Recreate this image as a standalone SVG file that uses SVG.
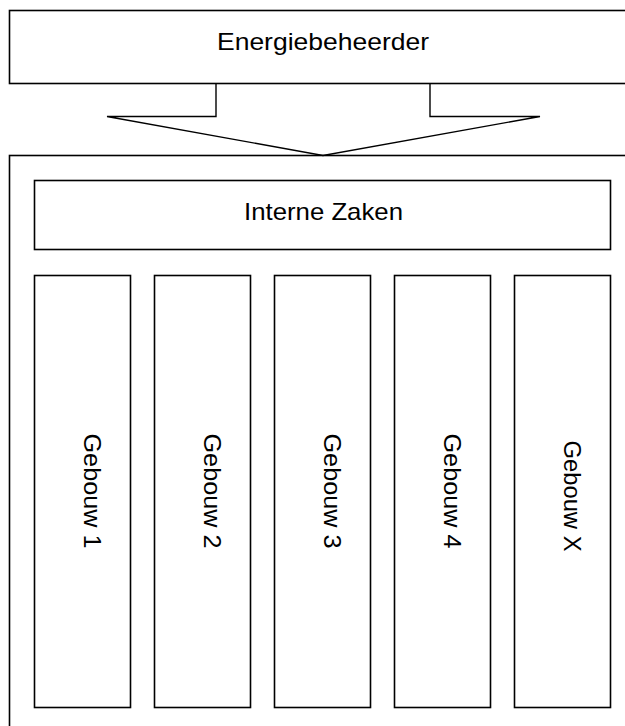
<svg xmlns="http://www.w3.org/2000/svg" width="625" height="726" viewBox="0 0 625 726">
<style>
.box{fill:#fff;stroke:#000;stroke-width:1.6}
.lbl{font-family:"Liberation Sans",Arial,sans-serif;font-size:24px;fill:#000;text-anchor:middle}
.arrow{fill:none;stroke:#000;stroke-width:1.4;stroke-linejoin:miter}
</style>
<rect x="0" y="0" width="625" height="726" fill="#fff"/>
<g id="energiebeheerder">
<rect class="box" x="9.5" y="10.5" width="630" height="73"/>
<text class="lbl" x="323" y="49.5" textLength="212" lengthAdjust="spacingAndGlyphs">Energiebeheerder</text>
</g>
<g id="container">
<rect class="box" x="9.5" y="155.5" width="630" height="600"/>
</g>
<g id="connectors">
<polyline class="arrow" points="216,83.5 216,116.5 107,116.5 323,155.5 540,116.5 430,116.5 430,83.5"/>
</g>
<g id="interne-zaken">
<rect class="box" x="34.5" y="180.5" width="576" height="69"/>
<text class="lbl" x="323.5" y="219.5" textLength="159" lengthAdjust="spacingAndGlyphs">Interne Zaken</text>
</g>
<g id="gebouw-1">
<rect class="box" x="34.5" y="275.5" width="96" height="432"/>
<text class="lbl" transform="translate(84,491) rotate(90)" textLength="115" lengthAdjust="spacingAndGlyphs">Gebouw 1</text>
</g>
<g id="gebouw-2">
<rect class="box" x="154.5" y="275.5" width="96" height="432"/>
<text class="lbl" transform="translate(204,491) rotate(90)" textLength="115" lengthAdjust="spacingAndGlyphs">Gebouw 2</text>
</g>
<g id="gebouw-3">
<rect class="box" x="274.5" y="275.5" width="96" height="432"/>
<text class="lbl" transform="translate(324,491) rotate(90)" textLength="115" lengthAdjust="spacingAndGlyphs">Gebouw 3</text>
</g>
<g id="gebouw-4">
<rect class="box" x="394.5" y="275.5" width="96" height="432"/>
<text class="lbl" transform="translate(444,491) rotate(90)" textLength="115" lengthAdjust="spacingAndGlyphs">Gebouw 4</text>
</g>
<g id="gebouw-x">
<rect class="box" x="514.5" y="275.5" width="96" height="432"/>
<text class="lbl" transform="translate(564,496) rotate(90)" textLength="111" lengthAdjust="spacingAndGlyphs">Gebouw X</text>
</g>
</svg>
